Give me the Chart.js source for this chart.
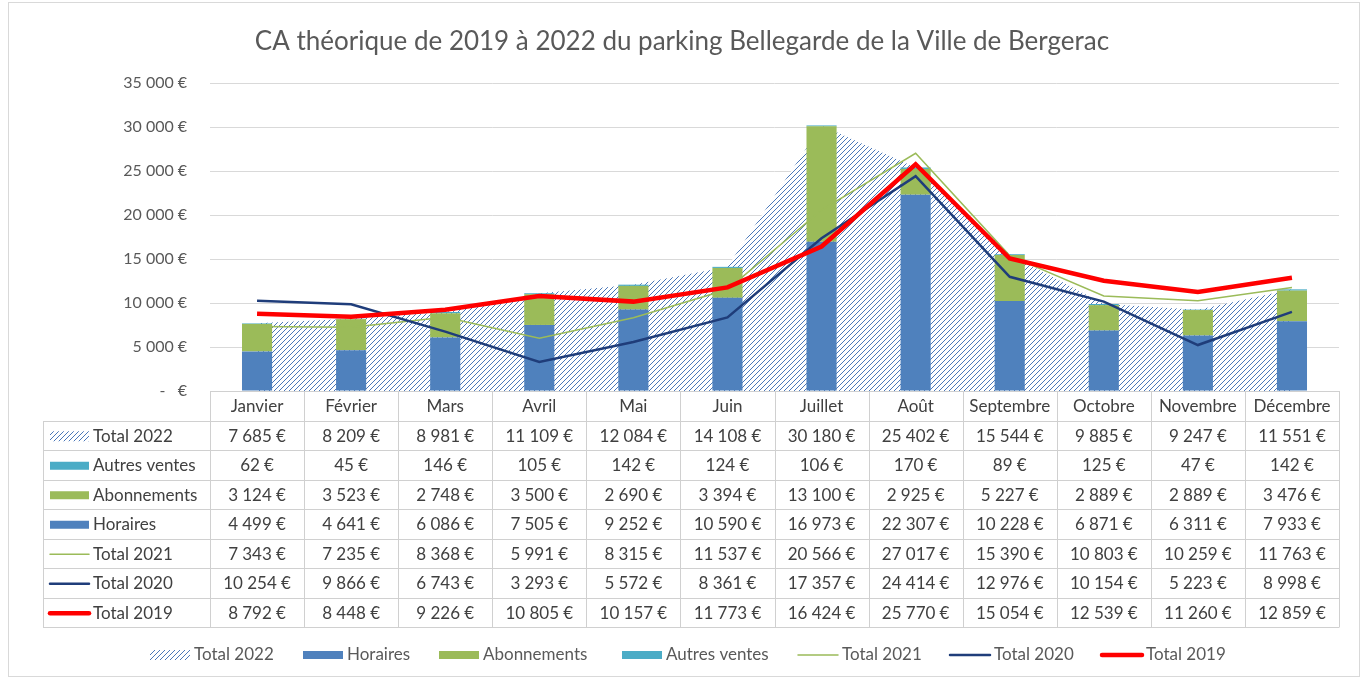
<!DOCTYPE html>
<html>
<head>
<meta charset="utf-8">
<script src="https://cdn.jsdelivr.net/npm/chart.js@4.4.0/dist/chart.umd.min.js"></script>
<style>
  html, body { margin: 0; padding: 0; background: #fff; }
  #wrap { width: 1362px; height: 679px; }
</style>
</head>
<body>
<div id="wrap"><canvas id="caChart" width="1362" height="679"></canvas></div>
<script>
// Données
const mois = ["Janvier", "Février", "Mars", "Avril", "Mai", "Juin", "Juillet", "Août", "Septembre", "Octobre", "Novembre", "Décembre"];
const total2022 = [7685, 8209, 8981, 11109, 12084, 14108, 30180, 25402, 15544, 9885, 9247, 11551];
const autresVentes = [62, 45, 146, 105, 142, 124, 106, 170, 89, 125, 47, 142];
const abonnements = [3124, 3523, 2748, 3500, 2690, 3394, 13100, 2925, 5227, 2889, 2889, 3476];
const horaires = [4499, 4641, 6086, 7505, 9252, 10590, 16973, 22307, 10228, 6871, 6311, 7933];
const total2021 = [7343, 7235, 8368, 5991, 8315, 11537, 20566, 27017, 15390, 10803, 10259, 11763];
const total2020 = [10254, 9866, 6743, 3293, 5572, 8361, 17357, 24414, 12976, 10154, 5223, 8998];
const total2019 = [8792, 8448, 9226, 10805, 10157, 11773, 16424, 25770, 15054, 12539, 11260, 12859];
const yTicks = [0, 5000, 10000, 15000, 20000, 25000, 30000, 35000];

const FONT = "Lato, 'Open Sans', sans-serif";

function euro(n) {
    if (n === 0) return "-   €";
    return String(n).replace(/\B(?=(\d{3})+(?!\d))/g, "\u202F") + "\u202F€";
}

const canvas = document.getElementById("caChart");
const ctx = canvas.getContext("2d");

// motif hachuré pour Total 2022
function makeHatch() {
    const c = document.createElement("canvas");
    c.width = 5; c.height = 5;
    const g = c.getContext("2d");
    g.fillStyle = "#ffffff";
    g.fillRect(0, 0, 5, 5);
    g.strokeStyle = "#4a78ba";
    g.lineWidth = 1;
    g.beginPath();
    g.moveTo(0, 5); g.lineTo(5, 0);
    g.moveTo(-1, 1); g.lineTo(1, -1);
    g.moveTo(4, 6); g.lineTo(6, 4);
    g.stroke();
    return ctx.createPattern(c, "repeat");
}
const hatch = makeHatch();

const colors = {
    horaires: "#4F81BD",
    abonnements: "#9BBB59",
    autres: "#4BACC6",
    t2021: "#9BBB59",
    t2020: "#1F3D7A",
    t2019: "#FF0000"
};

// lignes du tableau (ordre du tableau)
const tableRows = [
    { label: "Total 2022", data: total2022, kind: "hatch" },
    { label: "Autres ventes", data: autresVentes, kind: "box", color: colors.autres },
    { label: "Abonnements", data: abonnements, kind: "box", color: colors.abonnements },
    { label: "Horaires", data: horaires, kind: "box", color: colors.horaires },
    { label: "Total 2021", data: total2021, kind: "line", color: colors.t2021, w: 1.5 },
    { label: "Total 2020", data: total2020, kind: "line", color: colors.t2020, w: 2.5 },
    { label: "Total 2019", data: total2019, kind: "line", color: colors.t2019, w: 4.5 }
];

// légende du bas
const legendItems = [
    { label: "Total 2022", kind: "hatch", x: 150 },
    { label: "Horaires", kind: "box", color: colors.horaires, x: 303 },
    { label: "Abonnements", kind: "box", color: colors.abonnements, x: 439 },
    { label: "Autres ventes", kind: "box", color: colors.autres, x: 622 },
    { label: "Total 2021", kind: "line", color: colors.t2021, w: 1.5, x: 798 },
    { label: "Total 2020", kind: "line", color: colors.t2020, w: 2.5, x: 950 },
    { label: "Total 2019", kind: "line", color: colors.t2019, w: 4.5, x: 1102 }
];

function drawSwatch(c, item, x, y, w) {
    c.save();
    if (item.kind === "hatch") {
        c.fillStyle = hatch;
        c.fillRect(x, y - 5, w, 10);
    } else if (item.kind === "box") {
        c.fillStyle = item.color;
        c.fillRect(x, y - 4, w, 8);
    } else {
        c.strokeStyle = item.color;
        c.lineWidth = item.w;
        c.lineCap = "round";
        c.beginPath();
        c.moveTo(x, y);
        c.lineTo(x + w, y);
        c.stroke();
    }
    c.restore();
}

const tablePlugin = {
    id: "tableau",
    beforeDraw(chart) {
        const c = chart.ctx;
        c.save();
        c.fillStyle = "#ffffff";
        c.fillRect(0, 0, chart.width, chart.height);
        c.restore();
    },
    afterDraw(chart) {
        const c = chart.ctx;
        const { chartArea, scales: { x } } = chart;
        const left = chartArea.left, right = chartArea.right;
        const colW = (right - left) / mois.length;
        const top = chartArea.bottom;
        const rowH = 29.5;
        const labelLeft = 43;

        c.save();
        // titre
        c.fillStyle = "#595959";
        c.font = "26px " + FONT;
        c.textAlign = "center";
        c.textBaseline = "middle";
        c.fillText("CA théorique de 2019 à 2022 du parking Bellegarde de la Ville de Bergerac", 682, 42);

        // grille du tableau
        c.strokeStyle = "#D0D0D0";
        c.lineWidth = 1;
        c.beginPath();
        c.moveTo(left, top + 0.5); c.lineTo(right, top + 0.5);
        for (let r = 1; r <= tableRows.length + 1; r++) {
            const yy = Math.round(top + r * rowH) + 0.5;
            c.moveTo(labelLeft, yy); c.lineTo(right, yy);
        }
        const bottom = Math.round(top + (tableRows.length + 1) * rowH) + 0.5;
        c.moveTo(labelLeft + 0.5, Math.round(top + rowH)); c.lineTo(labelLeft + 0.5, bottom);
        for (let i = 0; i <= mois.length; i++) {
            const xx = Math.round(left + i * colW) + 0.5;
            c.moveTo(xx, top); c.lineTo(xx, bottom);
        }
        c.stroke();

        // en-têtes des mois
        c.fillStyle = "#404040";
        c.font = "17px " + FONT;
        c.textAlign = "center";
        mois.forEach((m, i) => {
            c.fillText(m, x.getPixelForValue(i), top + rowH / 2 + 1);
        });

        // lignes de valeurs
        tableRows.forEach((row, r) => {
            const cy = top + (r + 1) * rowH + rowH / 2 + 1;
            drawSwatch(c, row, 50, cy, 39);
            c.textAlign = "left";
            c.fillText(row.label, 93, cy);
            c.textAlign = "center";
            row.data.forEach((v, i) => {
                c.fillText(euro(v), x.getPixelForValue(i), cy);
            });
        });

        // légende
        c.fillStyle = "#595959";
        c.font = "17px " + FONT;
        c.textAlign = "left";
        legendItems.forEach(item => {
            drawSwatch(c, item, item.x, 655, 40);
            c.fillText(item.label, item.x + 44, 655);
        });

        // cadre
        c.strokeStyle = "#D9D9D9";
        c.strokeRect(8.5, 2.5, 1351, 674);
        c.restore();
    }
};

new Chart(ctx, {
    type: "bar",
    data: {
        labels: mois,
        datasets: [
            { type: "line", label: "Total 2022", data: total2022, backgroundColor: hatch, borderWidth: 0, pointRadius: 0, fill: "origin", stack: "a22", order: 10 },
            { label: "Horaires", data: horaires, backgroundColor: colors.horaires, stack: "ventes", order: 5 },
            { label: "Abonnements", data: abonnements, backgroundColor: colors.abonnements, stack: "ventes", order: 5 },
            { label: "Autres ventes", data: autresVentes, backgroundColor: colors.autres, stack: "ventes", order: 5 },
            { type: "line", label: "Total 2021", data: total2021, borderColor: colors.t2021, borderWidth: 1.5, pointRadius: 0, fill: false, stack: "a21", order: 2 },
            { type: "line", label: "Total 2020", data: total2020, borderColor: colors.t2020, borderWidth: 2.5, pointRadius: 0, fill: false, stack: "a20", order: 1 },
            { type: "line", label: "Total 2019", data: total2019, borderColor: colors.t2019, borderWidth: 4.5, pointRadius: 0, fill: false, stack: "a19", order: 0 }
        ]
    },
    options: {
        responsive: false,
        animation: false,
        barPercentage: 0.32,
        categoryPercentage: 1,
        layout: { padding: { top: 83, right: 23, bottom: 288, left: 0 } },
        plugins: {
            legend: { display: false },
            tooltip: { enabled: false }
        },
        scales: {
            x: {
                stacked: true,
                display: false,
                offset: true
            },
            y: {
                stacked: true,
                min: 0,
                max: 35000,
                afterBuildTicks(scale) {
                    scale.ticks = yTicks.map(v => ({ value: v }));
                },
                afterFit(scale) {
                    scale.width = 210;
                },
                ticks: {
                    callback: v => euro(v),
                    color: "#595959",
                    font: { family: FONT, size: 16 },
                    padding: 23
                },
                grid: { color: "#D9D9D9", drawTicks: false },
                border: { display: false }
            }
        }
    },
    plugins: [tablePlugin]
});
</script>
</body>
</html>
